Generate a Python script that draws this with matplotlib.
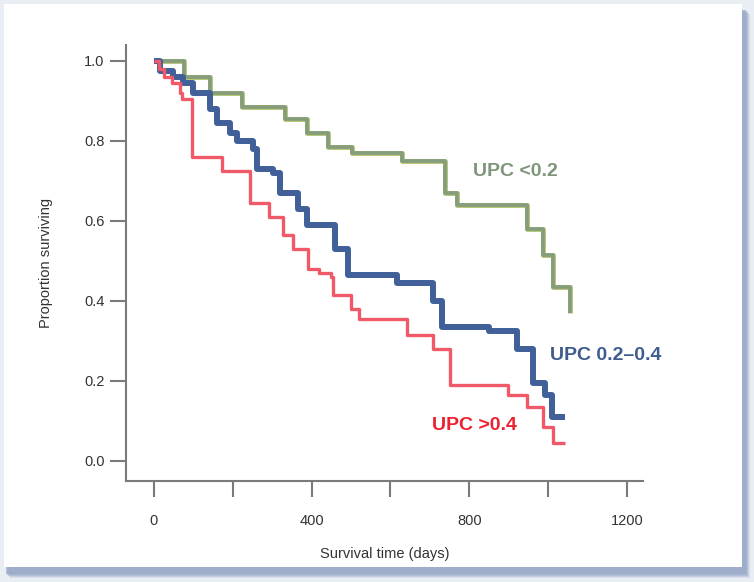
import matplotlib.pyplot as plt
from matplotlib.patches import Rectangle

plt.rcParams['font.family'] = ['Liberation Sans', 'DejaVu Sans']

# Kaplan-Meier steps: time (days) and survival after each drop
green_t = [0, 76, 142, 223, 332, 388, 442, 503, 629, 739, 769, 947, 987, 1013, 1056]
green_s = [1.0, 0.96, 0.92, 0.885, 0.855, 0.82, 0.785, 0.77, 0.75, 0.67, 0.64, 0.58, 0.515, 0.435, 0.37]

blue_t = [0, 15, 48, 74, 99, 142, 160, 193, 211, 251, 261, 302, 320, 365, 388, 459, 492,
          617, 708, 731, 850, 921, 962, 992, 1010, 1043]
blue_s = [1.0, 0.975, 0.96, 0.945, 0.92, 0.88, 0.845, 0.82, 0.80, 0.78, 0.73, 0.72, 0.67,
          0.63, 0.59, 0.53, 0.465, 0.445, 0.40, 0.335, 0.325, 0.28, 0.195, 0.165, 0.11, 0.11]

red_t = [0, 12, 25, 45, 65, 72, 97, 173, 244, 292, 328, 353, 391, 420, 450, 455, 500, 520,
         642, 708, 751, 898, 947, 987, 1013, 1043]
red_s = [1.0, 0.98, 0.96, 0.945, 0.92, 0.905, 0.76, 0.725, 0.645, 0.61, 0.565, 0.53, 0.48,
         0.47, 0.46, 0.415, 0.38, 0.355, 0.315, 0.28, 0.19, 0.165, 0.135, 0.085, 0.045, 0.045]

fig = plt.figure(figsize=(7.54, 5.82), dpi=100)
fig.patch.set_facecolor('#e9edf4')

# card with soft shadow
for i, a in enumerate([0.2, 0.3, 0.4, 0.55, 0.7]):
    d = 5 - i
    fig.patches.append(Rectangle(((5 + d) / 754, (1 - (573 + d) / 582)), 740 / 754, 564 / 582,
                                 transform=fig.transFigure, facecolor='#9aabc9', alpha=a,
                                 edgecolor='none', zorder=0))
fig.patches.append(Rectangle((4 / 754, 1 - 567 / 582), 738 / 754, 563 / 582,
                             transform=fig.transFigure, facecolor='white',
                             edgecolor='none', zorder=1))

ax = fig.add_axes([126 / 754, 1 - 481 / 582, 517 / 754, 436 / 582])
ax.set_zorder(5)
ax.set_facecolor('none')

ax.step(green_t, green_s, where='post', color='#b9c77a', lw=3.6, solid_capstyle='butt')
ax.step(green_t, green_s, where='post', color='#869d7b', lw=2.7, solid_capstyle='butt')
ax.step(blue_t, blue_s, where='post', color='#41609a', lw=4.3, solid_capstyle='butt')
ax.step(red_t, red_s, where='post', color='#f05a68', lw=2.4, solid_capstyle='butt')

ax.text(809, 0.725, 'UPC <0.2', color='#7f967a', fontsize=14, fontweight='bold', va='center')
ax.text(1005, 0.265, 'UPC 0.2\u20130.4', color='#3e5c8f', fontsize=14, fontweight='bold', va='center')
ax.text(706, 0.09, 'UPC >0.4', color='#ee2130', fontsize=14, fontweight='bold', va='center')

ax.set_xlim(-71, 1241)
ax.set_ylim(-0.05, 1.04)

for s in ['top', 'right']:
    ax.spines[s].set_visible(False)
for s in ['left', 'bottom']:
    ax.spines[s].set_color('#7a7a7a')
    ax.spines[s].set_linewidth(1.5)

ax.set_xticks([0, 200, 400, 600, 800, 1000, 1200])
ax.set_xticklabels(['0', '', '400', '', '800', '', '1200'])
ax.set_yticks([0, 0.2, 0.4, 0.6, 0.8, 1.0])
ax.set_yticklabels(['0.0', '0.2', '0.4', '0.6', '0.8', '1.0'])
ax.tick_params(axis='x', direction='out', length=11.5, width=1.5, color='#7a7a7a',
               pad=12, labelsize=10.5, labelcolor='#333333')
ax.tick_params(axis='y', direction='out', length=11.5, width=1.5, color='#7a7a7a',
               pad=4, labelsize=10.5, labelcolor='#333333')

ax.set_xlabel('Survival time (days)', fontsize=10.5, color='#333333', labelpad=14)
ax.set_ylabel('Proportion surviving', fontsize=10.5, color='#333333', labelpad=22)

fig.savefig('out.png', dpi=100, facecolor=fig.get_facecolor())
